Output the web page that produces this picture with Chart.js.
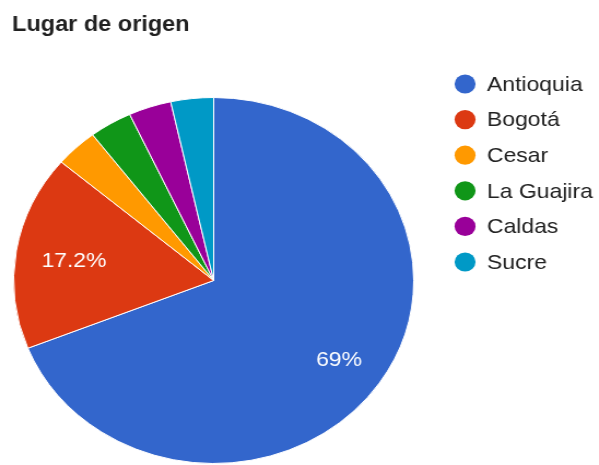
<!DOCTYPE html>
<html>
<head>
<meta charset="utf-8">
<script src="https://cdn.jsdelivr.net/npm/chart.js@4"></script>
<style>
  html, body { margin: 0; padding: 0; background: #fff; overflow: hidden; }
  #wrap { width: 599px; height: 465px; overflow: hidden; }
  #c { transform: scaleX(1.093); transform-origin: 0 0; display: block; }
</style>
</head>
<body>
<div id="wrap"><canvas id="c" width="548" height="465"></canvas></div>
<script>
const title = 'Lugar de origen';
const categories = ['Antioquia', 'Bogotá', 'Cesar', 'La Guajira', 'Caldas', 'Sucre'];
const responses = [20, 5, 1, 1, 1, 1];
const colors = ['#3366cc', '#dc3912', '#ff9900', '#109618', '#990099', '#0099c6'];

const FONT = '"Liberation Sans", Arial, sans-serif';

const textPlugin = {
  id: 'textPlugin',
  afterDraw(chart) {
    const ctx = chart.ctx;
    ctx.save();
    // title
    ctx.fillStyle = '#212121';
    ctx.font = 'bold 21.5px ' + FONT;
    ctx.textAlign = 'left';
    ctx.textBaseline = 'alphabetic';
    ctx.fillText(title, 11, 31);
    // slice labels: text box's outer extent kept at a fixed fraction of the radius
    const meta = chart.getDatasetMeta(0);
    const total = responses.reduce((a, b) => a + b, 0);
    ctx.font = '21px ' + FONT;
    ctx.fillStyle = '#ffffff';
    ctx.textAlign = 'center';
    ctx.textBaseline = 'middle';
    meta.data.forEach((arc, i) => {
      const pct = responses[i] / total * 100;
      if (pct < 5) return;
      const p = arc.getProps(['x', 'y', 'startAngle', 'endAngle', 'outerRadius'], true);
      const mid = (p.startAngle + p.endAngle) / 2;
      const txt = (Math.round(pct * 10) / 10) + '%';
      const w = ctx.measureText(txt).width;
      const h = 15;
      const c = Math.cos(mid), s = Math.sin(mid);
      const ext = Math.abs(c) * w / 2 + Math.abs(s) * h / 2;
      const r = p.outerRadius * 0.875 - ext;
      ctx.fillText(txt, p.x + c * r, p.y + s * r + 2);
    });
    // legend
    ctx.textAlign = 'left';
    ctx.font = '21px ' + FONT;
    categories.forEach((name, i) => {
      const y = 84 + i * 35.6;
      ctx.beginPath();
      ctx.fillStyle = colors[i];
      ctx.arc(425.5, y, 9.6, 0, Math.PI * 2);
      ctx.fill();
      ctx.fillStyle = '#212121';
      ctx.fillText(name, 445.5, y + 1);
    });
    ctx.restore();
  }
};

new Chart(document.getElementById('c'), {
  type: 'pie',
  data: {
    labels: categories,
    datasets: [{
      data: responses,
      backgroundColor: colors,
      borderColor: '#ffffff',
      borderWidth: 1
    }]
  },
  options: {
    responsive: false,
    animation: false,
    layout: { padding: { left: 12, right: 169, top: 97, bottom: 1 } },
    plugins: {
      legend: { display: false },
      title: { display: false },
      tooltip: { enabled: false }
    }
  },
  plugins: [textPlugin]
});
</script>
</body>
</html>
